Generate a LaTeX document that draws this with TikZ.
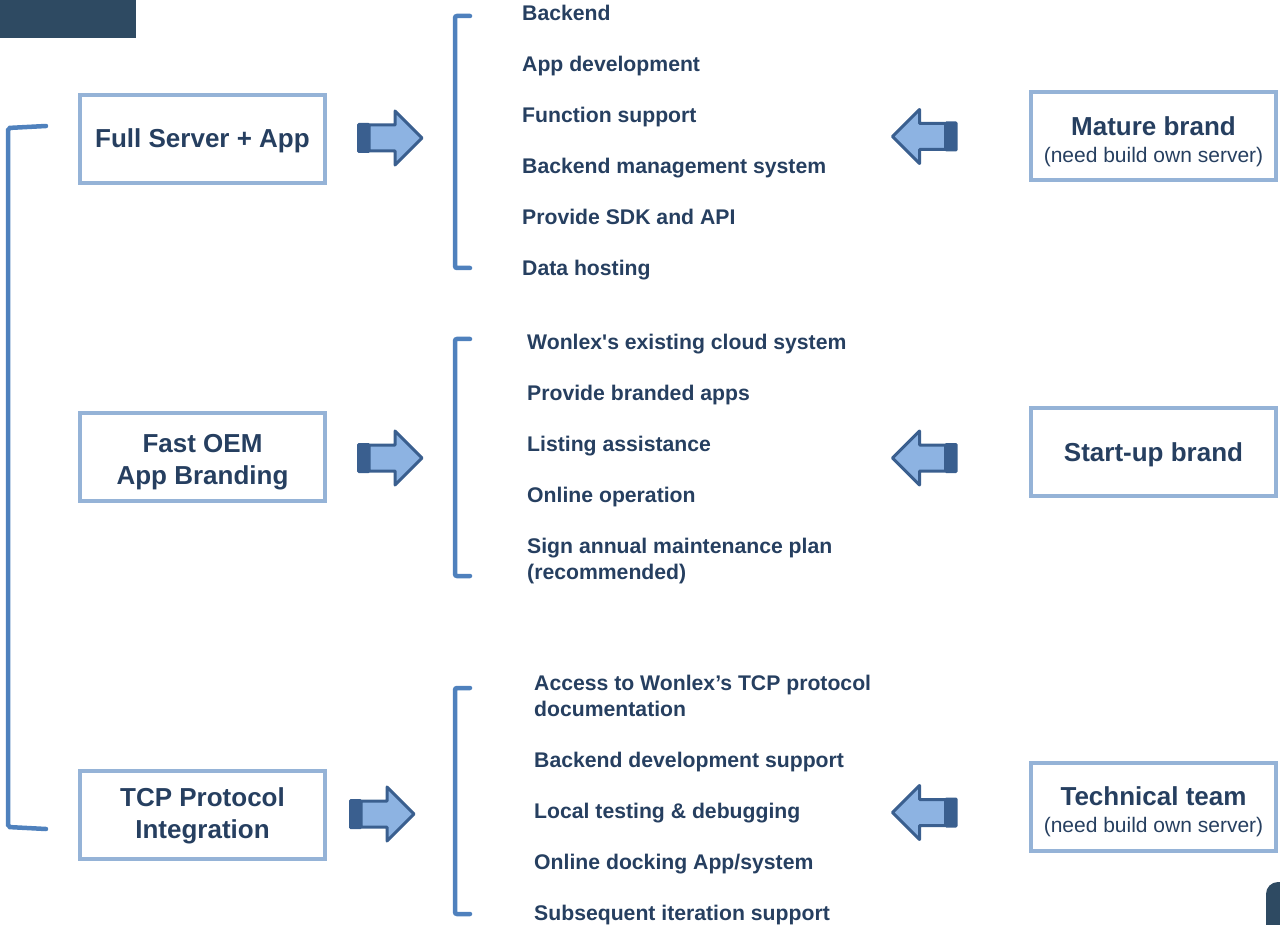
\documentclass[tikz,border=0pt]{standalone}
\usepackage{fontspec}
\setmainfont{Liberation Sans}
\usetikzlibrary{positioning}

\definecolor{navy}{HTML}{263F60}
\definecolor{boxline}{HTML}{95B3D7}
\definecolor{bracketc}{HTML}{4F81BD}
\definecolor{arrfill}{HTML}{8DB3E2}
\definecolor{arrdark}{HTML}{3A5F8F}
\definecolor{cornerc}{HTML}{2E4A62}

\newcommand\subtxt[1]{{\mdseries\fontsize{21}{26}\selectfont #1}}

\tikzset{
  optbox/.style={draw=boxline,line width=4pt,minimum width=245pt,minimum height=88pt},
  boxtxt/.style={align=center,text=navy,inner sep=0pt,font=\bfseries\fontsize{26}{32}\selectfont},
  item/.style={anchor=north west,inner sep=0pt,align=left,text=navy,
    font=\bfseries\fontsize{21.2}{26}\selectfont},
  brack/.style={draw=bracketc,line width=4.5pt,line cap=round,rounded corners=2pt},
  rarr/.pic={
    \fill[arrdark,rounded corners=1.5pt] (-33,-15) rectangle (-20,15);
    \draw[arrdark,fill=arrfill,line width=3pt,line join=round]
      (-21,-13) -- (5,-13) -- (5,-27) -- (32,0) -- (5,27) -- (5,13) -- (-21,13) -- cycle;
  }
}

\begin{document}
\begin{tikzpicture}[x=1pt,y=-1pt]
  \useasboundingbox (0,0) rectangle (1280,925);

  % corner marks
  \fill[cornerc] (0,0) rectangle (136,38);
  \fill[cornerc,rounded corners=12pt] (1266,882) rectangle (1300,945);

  % options
  \node[optbox] (full) at (202.5,139) {};
  \node[optbox] (oem)  at (202.5,457) {};
  \node[optbox] (tcp)  at (202.5,815) {};
  \node[boxtxt] (fulltxt) at ([yshift=-2pt]full.center) {Full Server + App};
  \node[boxtxt] (oemtxt)  at ([yshift=-5pt]oem.center) {Fast OEM\\App Branding};
  \node[boxtxt] (tcptxt)  at ([yshift=-1pt]tcp.center) {TCP Protocol\\Integration};

  % customers
  \node[optbox] (mature)  at (1153.5,136.5) {};
  \node[optbox] (startup) at (1153.5,451.5) {};
  \node[optbox] (tech)    at (1153.5,806.5) {};
  \node[boxtxt] (maturetxt)  at ([yshift=-5pt]mature.center) {Mature brand\\[-5pt]\subtxt{(need build own server)}};
  \node[boxtxt] (startuptxt) at ([yshift=-3pt]startup.center) {Start-up brand};
  \node[boxtxt] (techtxt)    at ([yshift=-5pt]tech.center) {Technical team\\[-5pt]\subtxt{(need build own server)}};

  % left bracket
  \draw[brack] (46,126) -- (8,128) -- (8,827) -- (46,829);

  % lists
  \foreach \y/\txt in {5/Backend, 56/App development, 107/Function support,
      158/Backend management system, 209/Provide SDK and API, 260/Data hosting}
    \node[item] at (522,\y) {\txt};
  \draw[brack] (470,16) -- (455,16) -- (455,268) -- (470,268);

  \foreach \y/\txt in {334/{Wonlex\textquotesingle s existing cloud system}, 385/Provide branded apps,
      436/Listing assistance, 487/Online operation,
      538/{Sign annual maintenance plan\\(recommended)}}
    \node[item] at (527,\y) {\txt};
  \draw[brack] (470,339) -- (455,339) -- (455,576) -- (470,576);

  \foreach \y/\txt in {675/{Access to Wonlex’s TCP protocol\\documentation},
      752/Backend development support, 803/Local testing \& debugging,
      854/{Online docking App/system}, 905/Subsequent iteration support}
    \node[item] at (534,\y) {\txt};
  \draw[brack] (470,688) -- (455,688) -- (455,914) -- (470,914);

  % arrows
  \pic at (390,138) {rarr};
  \pic at (390,458) {rarr};
  \pic at (382,814) {rarr};
  \pic[xscale=-1] at (924.5,136.5) {rarr};
  \pic[xscale=-1] at (924.5,458) {rarr};
  \pic[xscale=-1] at (924.5,812.5) {rarr};

\end{tikzpicture}
\end{document}
